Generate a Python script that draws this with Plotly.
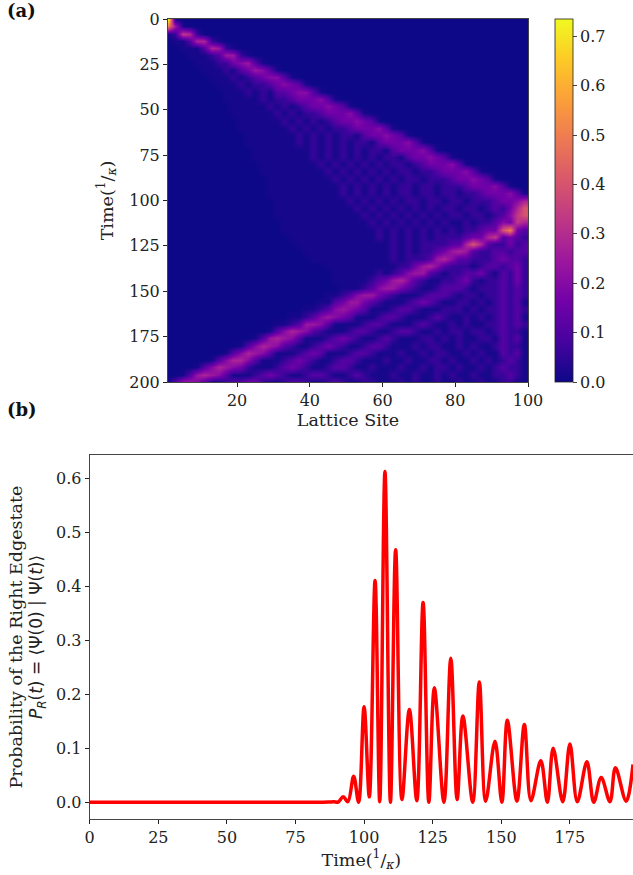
import plotly.graph_objects as go

# ---- panel (a): estimated |psi|^2 as level codes, rows by time, columns by site
sites = list(range(1, 100, 2))
times = list(range(0, 201, 4))
levels = {"0": 0.0, "1": 0.015, "2": 0.06, "3": 0.11, "4": 0.16, "5": 0.2, "6": 0.24, "7": 0.28,
          "8": 0.33, "9": 0.4, "a": 0.5, "e": 0.73}
rows = [
"e1",
"a61",
"12872",
"01137721",
"0011137621",
"000111236621",
"00001112245631",
"000001112134 6531",
"00000011121234 5531",
"0000000111212234 5431",
"000000001112121334 5531",
"00000000111112122344 4531",
"0000000001111121212344 5431",
"000000000111111212122344 4531",
"00000000001111112121212344 5431",
"0000000000111111121212122344 4531",
"000000000001111111212121221344 5431",
"00000000000111111121212121221344 4531",
"0000000000001111111121212121221344 4531",
"000000000000111111112121212121221344 5431",
"00000000000001111111121212121212212344 4531",
"0000000000000111111111212121212122122344 4531",
"000000000000001111111112121212121221222344 5431",
"00000000000000111111111121212121221221222344 4531",
"0000000000000011111111112121212122122122122344 4531",
"000000000000000111111111121212121221221221222344 57",
"0000000000 0000011111 1111112121 2121212122 1221232479",
"0000000000 0000011111 1111111212 1212121212 2122123589",
"0000000000 0000001111 1111111121 2121212121 1212235487",
"0000000000 0000001111 1111111112 1212121212 1223449a43",
"0000000000 0000000111 1111111112 1212121222 2344783432",
"0000000000 0000000011 1111111111 1212122223 3797322423",
"0000000000 0000000001 1111111111 1212122346 7632233233",
"0000000000 0000000000 1111111111 1212223675 3322234332",
"0000000000 0000000000 0011111111 1122467532 2212332342",
"0000000000 0000000000 0001111112 1235663212 2334213242",
"0000000000 0000000000 0001111123 4675321122 3421223242",
"0000000000 0000000000 0000111235 6643211233 3212223232",
"0000000000 0000000000 0011235664 3211123332 1221223232",
"0000000000 0000000000 0113466432 1112343211 2212123231",
"0000000000 0000000001 1235654311 1233211122 2121223232",
"0000000000 0000000112 3565431112 3321112321 1212123231",
"0000000000 0000011236 6531111233 2111232112 1211223232",
"0000000000 0000135765 3211123321 1233211212 2122123221",
"0000000000 0013676531 1123432112 3211122121 2112213231",
"0000000000 1357653211 2343211233 2111212211 2121123221",
"0000000013 5765311123 4311123321 1121121221 1212113231",
"0000001357 7531112343 2112332111 2112112212 1121212321",
"0000135765 4211123432 1123321121 1121121221 2112123221",
"0013676531 1123432112 3321123211 1211211212 1121122321",
"1366531123 3442112332 1123211221 1121211211 2112112211",
]
prob_grid = []
for r in rows:
    digits = r.replace(" ", "").ljust(len(sites), "0")[:len(sites)]
    prob_grid.append([levels[c] for c in digits])

# ---- panel (b): extrema and shoulder points
t_vals = [0, 25, 50, 75, 85, 87, 89, 90.5, 92.4, 94.1, 96.2, 98, 100, 101.9, 104, 105.7, 107.6, 109.6,
          111.5, 113.8, 116.5, 119.2, 121.5, 123.6, 125.6, 129.1, 131.6, 133.9, 136, 139.6, 142,
          144.3, 147.7, 150.2, 152.2, 155.7, 158.4, 160.8, 164.4, 166.8, 168.9, 172.4, 175, 177.7,
          181.2, 183.7, 186.4, 189.6, 191.6, 195.5, 198]
p_vals = [0, 0, 0, 0, 0, 0.0003, 0.001, 0.0005, 0.01, 0.001, 0.048, 0, 0.177, 0.01, 0.411, 0.001, 0.613, 0,
          0.468, 0.005, 0.172, 0.003, 0.37, 0, 0.212, 0, 0.267, 0.005, 0.16, 0, 0.223,
          0.002, 0.113, 0, 0.152, 0.002, 0.144, 0.003, 0.077, 0, 0.1, 0.001, 0.108, 0.001,
          0.075, 0, 0.046, 0.001, 0.064, 0.002, 0.07]

cbar_ticks = [0.0, 0.1, 0.2, 0.3, 0.4, 0.5, 0.6, 0.7]
site_ticks = [20, 40, 60, 80, 100]
time_ticks = [0, 25, 50, 75, 100, 125, 150, 175, 200]
line_xticks = [0, 25, 50, 75, 100, 125, 150, 175]
line_yticks = [0.0, 0.1, 0.2, 0.3, 0.4, 0.5, 0.6]

W, H = 633, 875
FONT = "DejaVu Serif"
INK = "#222222"

def dx(p): return p / W
def dy(p): return 1 - p / H

fig = go.Figure()
fig.add_trace(go.Heatmap(
    x=sites, y=times, z=prob_grid, colorscale="Plasma", zmin=0, zmax=0.735, zsmooth="best",
    xaxis="x", yaxis="y",
    colorbar=dict(x=dx(555), xanchor="left", xref="paper", y=dy(382), yanchor="bottom", yref="paper",
                  len=363 / H, lenmode="fraction", thickness=18, thicknessmode="pixels", xpad=0, ypad=0,
                  tickvals=cbar_ticks, tickformat=".1f", ticks="outside", ticklen=4,
                  outlinewidth=0.8, outlinecolor=INK, tickfont=dict(family=FONT, size=16, color=INK)),
))
fig.add_trace(go.Scatter(
    x=t_vals, y=p_vals, mode="lines", xaxis="x2", yaxis="y2",
    line=dict(color="#ff0000", width=3.5, shape="spline", smoothing=1.0), showlegend=False,
))

frac = 'Time(<sup>1</sup>/<sub><i>κ</i></sub>)'
axis_common = dict(showgrid=False, zeroline=False, ticks="outside", ticklen=4, tickcolor=INK,
                   linecolor="#444444", linewidth=1, showline=True, automargin=False,
                   tickfont=dict(family=FONT, size=16, color=INK))
title_font = dict(family=FONT, size=17.5, color=INK)

fig.update_layout(
    width=W, height=H, margin=dict(l=0, r=0, t=0, b=0, pad=0), paper_bgcolor="white", plot_bgcolor="white",
    font=dict(family=FONT, color=INK),
    xaxis=dict(domain=[dx(168), dx(528)], range=[1, 100], anchor="y", mirror=True, tickvals=site_ticks,
               title=dict(text="Lattice Site", font=title_font, standoff=4), **axis_common),
    yaxis=dict(domain=[dy(382), dy(19)], range=[200, 0], anchor="x", mirror=True, tickvals=time_ticks,
               title=dict(text=frac, font=title_font, standoff=11), **axis_common),
    xaxis2=dict(domain=[dx(89.7), 1], range=[0, 198], anchor="y2", tickvals=line_xticks, mirror=True,
                title=dict(text=frac, font=title_font, standoff=6), **axis_common),
    yaxis2=dict(domain=[dy(819), dy(455)], range=[-0.031, 0.6435], anchor="x2", tickvals=line_yticks,
                tickformat=".1f",
                title=dict(text='Probability of the Right Edgestate', font=title_font, standoff=28), **axis_common),
    annotations=[
        dict(text='<i>P<sub>R</sub></i>(<i>t</i>) = ⟨Ψ(0) | Ψ(<i>t</i>)⟩', x=dx(37), y=dy(637), xref="paper", yref="paper",
             textangle=-90, xanchor="center", yanchor="middle", showarrow=False,
             font=dict(family="DejaVu Sans", size=17, color=INK)),
        dict(text="<b>(a)</b>", x=dx(5), y=dy(10), xref="paper", yref="paper", xanchor="left", yanchor="middle",
             showarrow=False, font=dict(family=FONT, size=18, color="#111111")),
        dict(text="<b>(b)</b>", x=dx(5), y=dy(409), xref="paper", yref="paper", xanchor="left", yanchor="middle",
             showarrow=False, font=dict(family=FONT, size=18, color="#111111")),
    ],
)
fig.write_html("out.html", config={"displayModeBar": False},
               post_script="document.body.style.margin='0';window.dispatchEvent(new Event('resize'));")
